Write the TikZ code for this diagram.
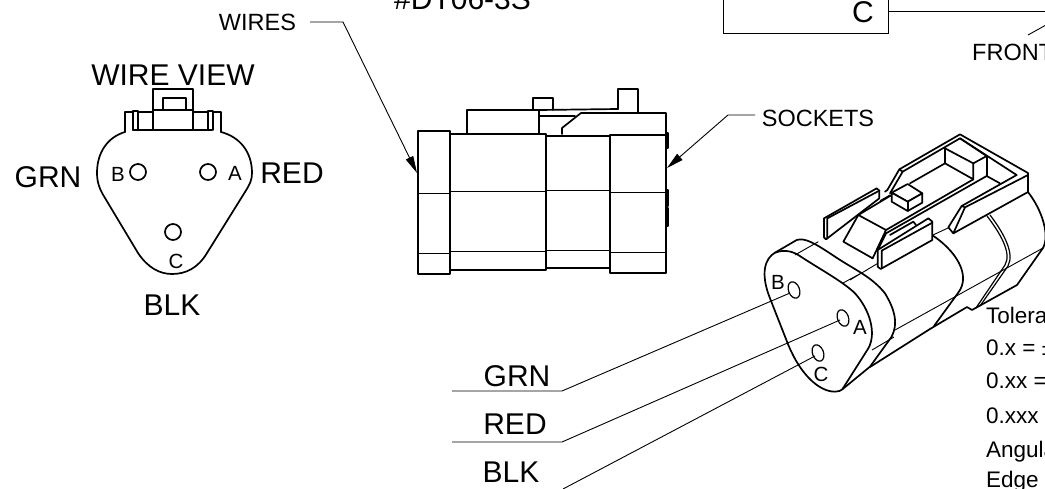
\documentclass[tikz,border=0pt]{standalone}
\usepackage{fontspec}
\setmainfont{Liberation Sans}
\usetikzlibrary{arrows.meta}
\tikzset{
  x=1pt,y=-1pt,
  big/.style={inner sep=0pt,font=\fontsize{30}{34}\selectfont},
  mid/.style={inner sep=0pt,font=\fontsize{23.5}{26}\selectfont},
  pin/.style={inner sep=0pt,font=\fontsize{20.5}{24}\selectfont},
  tol/.style={inner sep=0pt,anchor=base west,font=\fontsize{22.5}{24}\selectfont},
  ol/.style={draw=black,line width=1.7pt,line join=round,line cap=round},
  fine/.style={draw=black,line width=1.2pt,line join=round},
  th/.style={draw=black,line width=0.9pt,line join=round},
  lead/.style={draw=black,line width=0.9pt},
  tip/.style={-{Triangle[length=17pt,width=8pt]}},
}
\begin{document}
\begin{tikzpicture}
\useasboundingbox (0,0) rectangle (1045,488);
\clip (0,0) rectangle (1045,488);
\fill[white] (0,0) rectangle (1045,488);

% wire view
\node[big] (wv) at (173,75) {WIRE VIEW};
\node[big] (grn1) at (48,177) {GRN};
\node[big] (red1) at (292,173) {RED};
\node[big] (blk1) at (172,305) {BLK};
\draw[ol] (125,132) .. controls (108,137) and (97,152) .. (97,173)
  .. controls (97,183) and (100,190) .. (105,198)
  -- (138,253) .. controls (148,268) and (160,274) .. (172,274)
  .. controls (186,274) and (198,268) .. (207,253)
  -- (245,192) .. controls (250,184) and (252,180) .. (252,173)
  .. controls (252,152) and (240,137) .. (221,132);
\draw[ol] (133,130) -- (212,130);
\draw[ol] (153,130) -- (153,89) -- (193,89) -- (193,130);
\draw[ol] (153,110) -- (193,110);
\draw[ol] (163,110) -- (163,98) -- (186,98) -- (186,110);
\draw[ol] (125,132) -- (125,112) -- (133,112);
\draw[ol] (138,112) -- (153,112);
\draw[ol] (193,112) -- (208,112);
\draw[ol] (213,112) -- (221,112) -- (221,132);
\draw[ol] (133,130) -- (133,111) -- (138,111) -- (138,130);
\draw[ol] (208,130) -- (208,111) -- (213,111) -- (213,130);
\draw[ol] (138,172) circle (8);
\draw[ol] (208,172) circle (8);
\draw[ol] (173,232) circle (8);
\node[pin] (pb1) at (118,174) {B};
\node[pin] (pa1) at (235,173) {A};
\node[pin] (pc1) at (176,261) {C};

% title fragments
\node[big,anchor=base west] (part) at (394,9) {\#DT06-3S};
\node[mid] (wires) at (257.5,22) {WIRES};
\node[mid] (sock) at (818,118) {SOCKETS};
\node[mid,anchor=base west] (front) at (972,60) {FRONT};
\draw[draw=black,line width=1pt,fill=white] (723,-5) rectangle (888,33);
\node[big] (ctext) at (863,12) {C};
\coordinate (cr) at (888,11);
\coordinate (ce) at (1046,11);
\draw[lead] (cr) -- (ce);
\coordinate (fa) at (1028,35);
\coordinate (fb) at (1046,25);
\draw[lead] (fa) -- (fb);

% side view
\draw[ol] (418,131) rectangle (450,274);
\draw[th] (418,193) -- (450,193) (418,253) -- (450,253);
\draw[ol] (450,134) rectangle (546,270);
\draw[th] (450,191) -- (546,191) (450,251) -- (546,251);
\draw[ol] (546,136) rectangle (610,268);
\draw[th] (546,190) -- (610,190) (546,250) -- (610,250);
\draw[ol] (610,135) rectangle (666,273);
\draw[th] (610,192) -- (666,192) (610,252) -- (666,252);
\draw[ol] (467,134) -- (467,110) -- (539,110) -- (539,134);
\draw[ol] (539,110) -- (618,109);
\draw[ol] (539,116) -- (575,116);
\draw[ol] (562,134) -- (562,128) -- (581,113) -- (666,113) -- (666,135);
\draw[ol] (533,110) -- (533,98) -- (553,98) -- (553,110);
\draw[ol] (618,109) -- (618,89) -- (638,89) -- (638,113);
\draw[ol] (666,133) -- (668,133) -- (668,148) -- (666,148);
\draw[ol] (666,190) -- (668,190) -- (668,206) -- (666,206);
\draw[ol] (666,208) -- (668,208) -- (668,226) -- (666,226);
\coordinate (wtip) at (417,173);
\coordinate (stip) at (667,168);
\coordinate (wk) at (343,22);
\coordinate (sk) at (728,115);
\coordinate (ws) at (310,22);
\coordinate (ss) at (755,115);
\draw[lead,tip] (ws) -- (wk) -- (wtip);
\draw[lead,tip] (ss) -- (sk) -- (stip);

% isometric view: body sections
\draw[th] (843,283) -- (867,270) (850,280) -- (880,262) (933,235) -- (948,228);
\draw[th] (872,350) -- (894,337) (895,330) -- (1043,248);
\draw[ol] (870,367) -- (930,329) -- (967,307) -- (972,310) -- (1017,285) -- (1043,248);
\draw[ol] (932,235) .. controls (955,250) and (972,275) .. (958,293) -- (934,326);
\draw[fine] (987,216) .. controls (1000,233) and (1012,253) .. (1005,265) -- (976,308);
\draw[fine] (990,215) .. controls (1003,232) and (1015,253) .. (1008,266) -- (980,306);
\draw[ol] (1028,192) .. controls (1042,210) and (1050,235) .. (1043,248);
% isometric view: front face and rim (crop coordinates)
\begin{scope}[shift={(755,230)},scale=1/3]
\draw[ol] (60,68) .. controls (30,85) and (15,130) .. (45,205)
  -- (100,345) .. controls (135,430) and (190,485) .. (240,485)
  .. controls (250,485) and (258,482) .. (262,478)
  -- (340,355) .. controls (365,310) and (345,240) .. (300,190)
  .. controls (265,155) and (190,115) .. (130,75)
  .. controls (105,60) and (80,60) .. (60,68);
\draw[ol] (60,68) -- (125,30) .. controls (150,22) and (180,40) .. (240,80)
  .. controls (300,120) and (350,140) .. (390,190)
  .. controls (420,240) and (430,280) .. (410,320) -- (345,410) -- (262,478);
\draw[th] (120,75) -- (190,35);
\end{scope}
% isometric view: latch and tabs (crop coordinates)
\begin{scope}[shift={(810,130)},scale=1/3]
\draw[ol,fill=white] (42,265) -- (200,175) -- (208,182) -- (208,205) -- (48,328) -- (42,322) -- cycle;
\draw[ol] (52,265) -- (52,325) (52,265) -- (208,182);
\draw[ol,fill=white] (145,255) -- (100,335) -- (188,385) -- (228,300) -- cycle;
\draw[ol] (145,255) -- (245,195);
\draw[th] (210,212) -- (240,195);
\draw[ol] (228,300) -- (490,148);
\draw[ol] (203,360) -- (228,310) -- (530,138) -- (570,160);
\draw[ol] (240,315) -- (310,275) -- (318,285);
\draw[ol] (225,185) -- (232,180) -- (268,118) -- (450,13) -- (654,129) -- (654,186) -- (430,310) -- (415,292) -- (455,228) -- (620,135) -- (450,25) -- (278,125) -- (240,190);
\draw[ol] (268,118) -- (278,125);
\draw[ol] (465,232) -- (654,135) (465,232) -- (430,310) (455,228) -- (465,232);
\draw[ol] (405,55) -- (490,100) -- (530,78) -- (450,25);
\draw[ol] (405,55) -- (405,100) -- (490,148) -- (490,100);
\draw[ol] (530,78) -- (530,138);
\draw[ol] (405,100) -- (300,160);
\draw[ol,fill=white] (245,188) -- (293,162) -- (337,190) -- (293,215) -- cycle;
\draw[ol,fill=white] (245,188) -- (245,215) -- (293,243) -- (337,218) -- (337,190) -- (293,215) -- cycle;
\draw[ol] (293,215) -- (293,243);
\draw[ol,fill=white] (203,360) -- (355,265) -- (367,275) -- (367,330) -- (212,417) -- (203,410) -- cycle;
\draw[ol] (215,362) -- (215,415) (215,362) -- (367,278);
\end{scope}

% tolerance block
\node[tol] (t1) at (986,323) {Tolera};
\node[tol] (t2) at (986,355) {0.x = ±};
\node[tol] (t3) at (986,388) {0.xx =};
\node[tol] (t4) at (986,423) {0.xxx};
\node[tol] (t5) at (986,457) {Angula};
\node[tol] (t6) at (986,487) {Edge};

% holes and wire labels
\draw[fine] (794,290) ellipse[x radius=5.5,y radius=8.5,rotate=20];
\draw[fine] (843,318) ellipse[x radius=5.5,y radius=8.5,rotate=20];
\draw[fine] (818,353) ellipse[x radius=5.5,y radius=8.5,rotate=20];
\coordinate (hb) at (790,293);
\coordinate (ha) at (840,320);
\coordinate (hc) at (815,356);
\node[pin] (pb2) at (778,282) {B};
\node[pin] (pa2) at (860,327) {A};
\node[pin] (pc2) at (821,374) {C};
\node[big] (grn2) at (517,376) {GRN};
\node[big] (red2) at (515,424) {RED};
\node[big] (blk2) at (511,472) {BLK};
\coordinate (g0) at (452,391); \coordinate (g1) at (562,391);
\coordinate (r0) at (452,442); \coordinate (r1) at (562,442);
\coordinate (b1) at (563,489);
\draw[lead] (g0) -- (g1) -- (hb);
\draw[lead] (r0) -- (r1) -- (ha);
\draw[lead] (b1) -- (hc);
\end{tikzpicture}
\end{document}
